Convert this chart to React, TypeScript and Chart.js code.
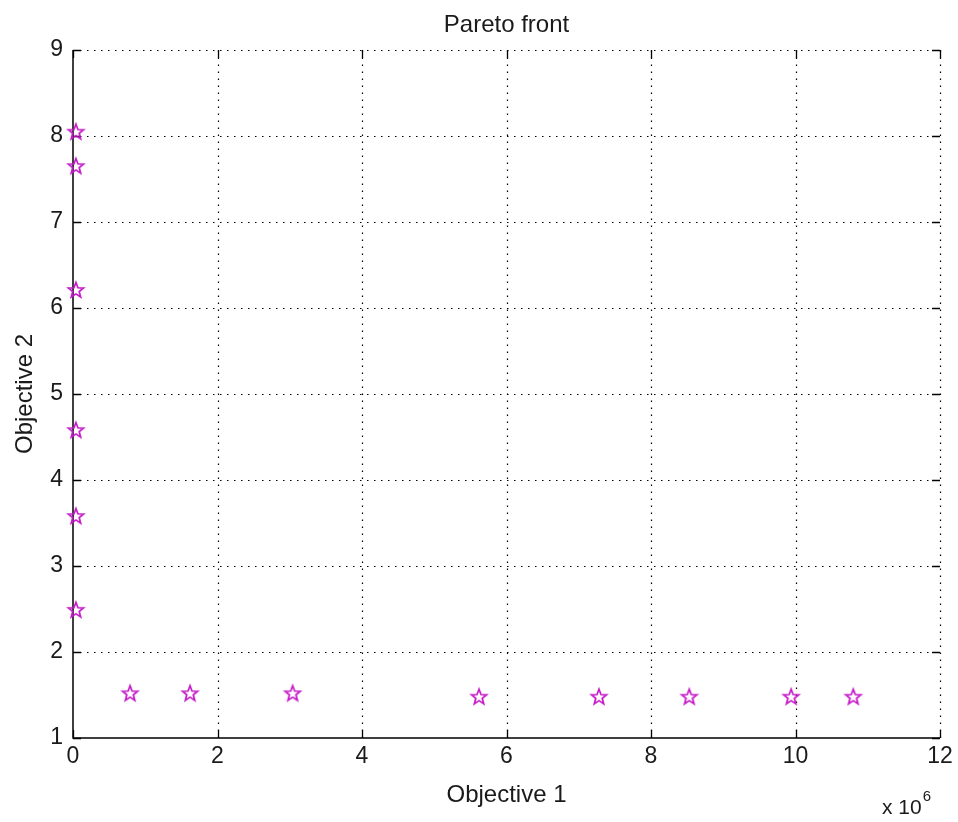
import React, { useEffect, useRef } from "react";
import { Chart, registerables } from "chart.js";

Chart.register(...registerables);

const titleText = "Pareto front";
const xAxisTitle = "Objective 1";
const yAxisTitle = "Objective 2";
const xMultiplierBase = "x 10";
const xMultiplierExp = "6";

// Objective 1 values in units of 10^6
const objective1 = [0.04, 0.04, 0.04, 0.04, 0.04, 0.04, 0.79, 1.62, 3.04, 5.62, 7.28, 8.53, 9.94, 10.8];
const objective2 = [8.05, 7.65, 6.21, 4.58, 3.58, 2.49, 1.52, 1.52, 1.52, 1.48, 1.48, 1.48, 1.48, 1.48];

const xTicks = [0, 2, 4, 6, 8, 10, 12];
const yTicks = [1, 2, 3, 4, 5, 6, 7, 8, 9];

const MAGENTA = "#c418c8";
const FONT = "'Liberation Sans', Arial, sans-serif";

function makeStar(): HTMLCanvasElement {
  const c = document.createElement("canvas");
  const s = 22;
  c.width = s;
  c.height = s;
  const g = c.getContext("2d")!;
  const cx = s / 2;
  const cy = s / 2 + 0.5;
  const R = 8;
  const r = 3.4;
  g.beginPath();
  for (let i = 0; i < 10; i++) {
    const ang = -Math.PI / 2 + (i * Math.PI) / 5;
    const rad = i % 2 === 0 ? R : r;
    const px = cx + rad * Math.cos(ang);
    const py = cy + rad * Math.sin(ang);
    if (i === 0) g.moveTo(px, py);
    else g.lineTo(px, py);
  }
  g.closePath();
  g.strokeStyle = MAGENTA;
  g.lineWidth = 1.7;
  g.lineJoin = "miter";
  g.stroke();
  return c;
}

const matlabAxes = {
  id: "matlabAxes",
  beforeDatasetsDraw(chart: any) {
    const { ctx, chartArea } = chart;
    const { left, right, top, bottom } = chartArea;
    const xs = chart.scales.x;
    const ys = chart.scales.y;
    ctx.save();
    // dotted grid
    ctx.strokeStyle = "#000";
    ctx.lineWidth = 1.2;
    ctx.setLineDash([1.5, 5.5]);
    xTicks.forEach((v) => {
      const px = Math.round(xs.getPixelForValue(v)) + 0.5;
      if (v === xTicks[0]) return;
      ctx.beginPath();
      ctx.moveTo(px, bottom);
      ctx.lineTo(px, top);
      ctx.stroke();
    });
    yTicks.forEach((v) => {
      const py = Math.round(ys.getPixelForValue(v)) + 0.5;
      if (v === yTicks[0]) return;
      ctx.beginPath();
      ctx.moveTo(left, py);
      ctx.lineTo(right, py);
      ctx.stroke();
    });
    ctx.setLineDash([]);
    // solid axes
    ctx.lineWidth = 1.5;
    ctx.beginPath();
    ctx.moveTo(left, top);
    ctx.lineTo(left, bottom);
    ctx.lineTo(right, bottom);
    ctx.stroke();
    // ticks inward
    const tl = 8;
    ctx.lineWidth = 1.3;
    xTicks.forEach((v) => {
      const px = Math.round(xs.getPixelForValue(v)) + 0.5;
      ctx.beginPath();
      ctx.moveTo(px, bottom);
      ctx.lineTo(px, bottom - tl);
      ctx.moveTo(px, top);
      ctx.lineTo(px, top + tl);
      ctx.stroke();
    });
    yTicks.forEach((v) => {
      const py = Math.round(ys.getPixelForValue(v)) + 0.5;
      ctx.beginPath();
      ctx.moveTo(left, py);
      ctx.lineTo(left + tl, py);
      ctx.moveTo(right, py);
      ctx.lineTo(right - tl, py);
      ctx.stroke();
    });

    // labels
    ctx.fillStyle = "#1a1a1a";
    ctx.font = `23px ${FONT}`;
    ctx.textAlign = "center";
    ctx.textBaseline = "top";
    xTicks.forEach((v) => {
      const px = xs.getPixelForValue(v);
      ctx.fillText(String(v), px, bottom + 7);
    });
    ctx.textAlign = "right";
    ctx.textBaseline = "middle";
    yTicks.forEach((v) => {
      const py = ys.getPixelForValue(v);
      ctx.fillText(String(v), left - 10, py);
    });

    ctx.font = `24px ${FONT}`;
    ctx.textAlign = "center";
    ctx.textBaseline = "alphabetic";
    const cx = (left + right) / 2;
    ctx.fillText(titleText, cx, 32);
    ctx.fillText(xAxisTitle, cx, 802);

    ctx.save();
    ctx.translate(32, (top + bottom) / 2);
    ctx.rotate(-Math.PI / 2);
    ctx.fillText(yAxisTitle, 0, 0);
    ctx.restore();

    ctx.font = `21px ${FONT}`;
    ctx.textAlign = "left";
    ctx.fillText(xMultiplierBase, 882, 814);
    const w = ctx.measureText(xMultiplierBase).width;
    ctx.font = `15px ${FONT}`;
    ctx.fillText(xMultiplierExp, 882 + w + 1, 801);

    ctx.restore();
  },
};

export default function App() {
  const ref = useRef<HTMLCanvasElement>(null);
  useEffect(() => {
    document.body.style.margin = "0";
    const star = makeStar();
    const chart = new Chart(ref.current!, {
      type: "scatter",
      data: {
        datasets: [
          {
            label: "Pareto",
            data: objective1.map((x, i) => ({ x, y: objective2[i] })),
            pointStyle: star as any,
            pointRadius: 8,
            showLine: false,
            clip: false as any,
          },
        ],
      },
      options: {
        responsive: false,
        animation: false,
        layout: { padding: { left: 73, right: 18, top: 50, bottom: 84 } },
        plugins: {
          legend: { display: false },
          tooltip: { enabled: false },
          title: { display: false },
        },
        scales: {
          x: { type: "linear", min: 0, max: 12, display: false },
          y: { type: "linear", min: 1, max: 9, display: false },
        },
      },
      plugins: [matlabAxes],
    });
    return () => chart.destroy();
  }, []);
  return (
    <div style={{ width: 958, height: 822, background: "#fff" }}>
      <canvas ref={ref} width={958} height={822} />
    </div>
  );
}
